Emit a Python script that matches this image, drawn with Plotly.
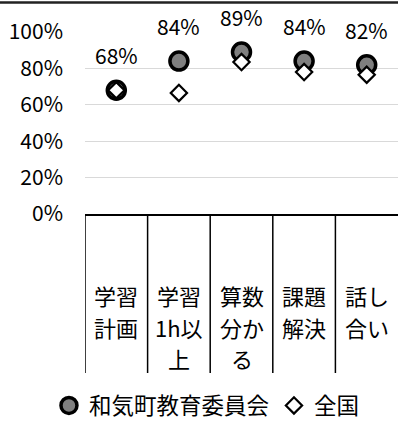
import plotly.graph_objects as go

# data
categories = ["学習<br>計画", "学習<br>1h以<br>上", "算数<br>分か<br>る", "課題<br>解決", "話し<br>合い"]
wake_values = [0.68, 0.84, 0.89, 0.84, 0.82]
national_values = [0.68, 0.665, 0.835, 0.78, 0.765]
wake_labels = ["68%", "84%", "89%", "84%", "82%"]
tick_vals = [0, 0.2, 0.4, 0.6, 0.8, 1.0]
tick_text = ["0%", "20%", "40%", "60%", "80%", "100%"]

FONT = "Noto Sans CJK JP"
x_idx = list(range(len(categories)))

fig = go.Figure()
fig.add_trace(go.Scatter(
    x=x_idx, y=wake_values, mode="markers", name="和気町教育委員会",
    marker=dict(symbol="circle", size=18, color="#7f7f7f",
                line=dict(color="black", width=3.5)),
))
fig.add_trace(go.Scatter(
    x=x_idx, y=national_values, mode="markers", name="全国",
    marker=dict(symbol="diamond", size=12.5, color="white",
                line=dict(color="black", width=2.2)),
))

# data labels above the circles
for i, (v, t) in enumerate(zip(wake_values, wake_labels)):
    fig.add_annotation(x=i, y=v, text=t, showarrow=False, yshift=35,
                       font=dict(family=FONT, size=21, color="black"))

# category labels, one annotation per line (paper spans the top 214px)
rows_y = [-0.3785, -0.528, -0.6745]
for i, cat in enumerate(categories):
    for j, line in enumerate(cat.split("<br>")):
        fig.add_annotation(x=i, y=rows_y[j], xref="x", yref="paper", text=line,
                           showarrow=False, yanchor="middle",
                           font=dict(family=FONT, size=22, color="black"))

# table style separators under the axis
for b in [-0.5, 0.5, 1.5, 2.5, 3.5]:
    fig.add_shape(type="line", xref="x", yref="paper", x0=b, x1=b, y0=0, y1=-0.743,
                  line=dict(color="black", width=1.5))

# border line at top of chart, kept inside the paper area
fig.add_shape(type="line", xref="paper", yref="paper", x0=0, x1=1, y0=0.988, y1=0.988,
              line=dict(color="#222", width=2.5), layer="above")

fig.update_xaxes(range=[-0.5, 4.5], domain=[85 / 398, 1], showticklabels=False,
                 showgrid=False, zeroline=False,
                 showline=True, linecolor="black", linewidth=1.5, automargin=False)
fig.update_yaxes(range=[0, 1.0], domain=[0, 182 / 214], tickvals=tick_vals, ticktext=tick_text,
                 showgrid=True, gridcolor="#d9d9d9", gridwidth=1, zeroline=False, showline=False,
                 automargin=False,
                 ticklabelstandoff=21, tickfont=dict(family=FONT, size=21, color="black"))

fig.update_layout(
    width=398, height=421,
    margin=dict(l=0, r=0, t=0, b=207, autoexpand=False),
    paper_bgcolor="white", plot_bgcolor="white",
    font=dict(family=FONT, color="black"),
    showlegend=True,
    legend=dict(orientation="h", xref="container", yref="container",
                x=0.52, xanchor="center", y=0.036, yanchor="middle",
                font=dict(family=FONT, size=22.5, color="black"), itemwidth=30),
)

# page body has a default margin, drop it so the figure sits at the corner
fig.write_html("out.html", config={"displayModeBar": False},
               post_script="document.body.style.margin='0';")
